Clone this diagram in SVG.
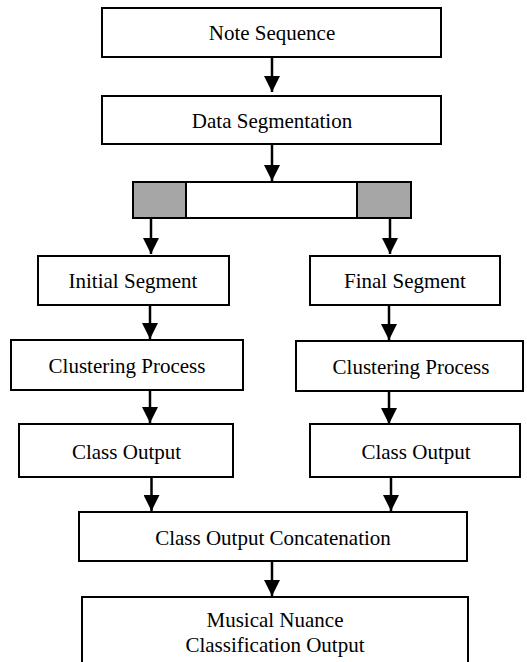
<svg xmlns="http://www.w3.org/2000/svg" width="527" height="662" viewBox="0 0 527 662">
<style>
.box{fill:#fff;stroke:#000;stroke-width:2}
.gray{fill:#a6a6a6;stroke:#000;stroke-width:2}
.lbl{font-family:"Liberation Serif","Times New Roman",serif;font-size:21px;fill:#000;text-anchor:middle}
.conn{stroke:#000;stroke-width:2.5;fill:none;marker-end:url(#ah)}
</style>
<defs>
<marker id="ah" markerUnits="userSpaceOnUse" markerWidth="16" markerHeight="16" viewBox="0 0 16 16" refX="16" refY="8" orient="auto">
<path d="M0,0 L16,8 L0,16 z" fill="#000"/>
</marker>
</defs>
<rect width="527" height="662" fill="#fff"/>
<g id="connectors">
<path class="conn" d="M272,57 V92"/>
<path class="conn" d="M272,144 V181"/>
<path class="conn" d="M151,218 V254"/>
<path class="conn" d="M390,218 V254"/>
<path class="conn" d="M150,305 V339"/>
<path class="conn" d="M389,305 V340"/>
<path class="conn" d="M150,390 V423"/>
<path class="conn" d="M389,391 V424"/>
<path class="conn" d="M151.5,477 V511"/>
<path class="conn" d="M391,477 V511"/>
<path class="conn" d="M272,561 V596"/>
</g>
<g id="note-sequence">
<rect class="box" x="102" y="8" width="339" height="49"/>
<text class="lbl" x="272" y="40">Note Sequence</text>
</g>
<g id="data-segmentation">
<rect class="box" x="102" y="96" width="339" height="48"/>
<text class="lbl" x="272" y="128">Data Segmentation</text>
</g>
<g id="segment-bar">
<rect class="box" x="133" y="182" width="278" height="36"/>
<rect class="gray" x="133" y="182" width="53" height="36"/>
<rect class="gray" x="357" y="182" width="54" height="36"/>
</g>
<g id="initial-segment">
<rect class="box" x="38" y="256" width="191" height="49"/>
<text class="lbl" x="133" y="288">Initial Segment</text>
</g>
<g id="final-segment">
<rect class="box" x="310" y="256" width="190" height="49"/>
<text class="lbl" x="405" y="288">Final Segment</text>
</g>
<g id="clustering-left">
<rect class="box" x="11" y="340" width="232" height="50"/>
<text class="lbl" x="127" y="373">Clustering Process</text>
</g>
<g id="clustering-right">
<rect class="box" x="296" y="341" width="227" height="50"/>
<text class="lbl" x="411" y="374">Clustering Process</text>
</g>
<g id="class-output-left">
<rect class="box" x="19" y="424" width="214" height="53"/>
<text class="lbl" x="126.5" y="459">Class Output</text>
</g>
<g id="class-output-right">
<rect class="box" x="310" y="424" width="210" height="53"/>
<text class="lbl" x="416" y="459">Class Output</text>
</g>
<g id="concatenation">
<rect class="box" x="79" y="512" width="388" height="49"/>
<text class="lbl" x="273" y="545">Class Output Concatenation</text>
</g>
<g id="final-output">
<rect class="box" x="82" y="597" width="386" height="70"/>
<text class="lbl" x="275" y="627">Musical Nuance</text>
<text class="lbl" x="275" y="652">Classification Output</text>
</g>
</svg>
